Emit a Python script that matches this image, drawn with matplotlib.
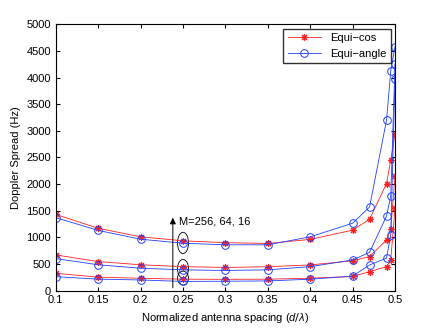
import matplotlib.pyplot as plt
from matplotlib.patches import Ellipse

plt.rcParams['font.family'] = ['Liberation Sans', 'DejaVu Sans']
plt.rcParams['mathtext.fontset'] = 'custom'
plt.rcParams['mathtext.it'] = 'Liberation Sans:italic'

# Normalized antenna spacing
spacing = [0.1, 0.15, 0.2, 0.25, 0.3, 0.35, 0.4, 0.45, 0.47, 0.49, 0.495, 0.5]

# Doppler spread (Hz), one curve per array size
cos_16 = [1430, 1170, 1010, 935, 900, 885, 962, 1135, 1340, 2010, 2450, 2940]
angle_16 = [1370, 1130, 965, 890, 860, 860, 1010, 1265, 1570, 3200, 4130, 4580]
cos_64 = [670, 545, 485, 450, 435, 448, 482, 560, 640, 950, 1150, 2160]
angle_64 = [600, 485, 420, 390, 378, 390, 450, 575, 720, 1400, 1780, 4260]
cos_256 = [325, 252, 232, 214, 212, 214, 233, 265, 355, 450, 580, 1550]
angle_256 = [262, 215, 200, 172, 176, 182, 214, 272, 482, 610, 1050, 3980]

xticks = [0.1, 0.15, 0.2, 0.25, 0.3, 0.35, 0.4, 0.45, 0.5]
xticklabels = ['0.1', '0.15', '0.2', '0.25', '0.3', '0.35', '0.4', '0.45', '0.5']
yticks = list(range(0, 5001, 500))

fig = plt.figure(figsize=(4.36, 3.28), dpi=100)
ax = fig.add_axes([0.128, 0.114, 0.778, 0.812])

star = (8, 2, 0)  # matlab-like asterisk
cos_style = dict(color='#ff2020', marker=star, markersize=5, linewidth=0.6, mew=0.8)
ang_style = dict(color='#2040ff', marker='o', mfc='none', markersize=5.5, linewidth=0.6, mew=0.7)

ax.plot(spacing, cos_16, label='Equi\u2212cos', **cos_style)
ax.plot(spacing, angle_16, label='Equi\u2212angle', **ang_style)
ax.plot(spacing, cos_64, **cos_style)
ax.plot(spacing, angle_64, **ang_style)
ax.plot(spacing, cos_256, **cos_style)
ax.plot(spacing, angle_256, **ang_style)

# ellipses around the pairs at 0.25
ax.add_patch(Ellipse((0.25, 895), 0.013, 400, fill=False, lw=0.6, ec='k'))
ax.add_patch(Ellipse((0.25, 410), 0.013, 350, fill=False, lw=0.6, ec='k'))
ax.add_patch(Ellipse((0.25, 235), 0.013, 260, fill=False, lw=0.6, ec='k'))

ax.annotate('', xy=(0.238, 1420), xytext=(0.238, 0),
            arrowprops=dict(arrowstyle='-|>', color='k', lw=0.7, mutation_scale=9))
ax.text(0.2455, 1300, 'M=256, 64, 16', fontsize=8, va='center')

ax.set_xlim(0.1, 0.5)
ax.set_ylim(0, 5000)
ax.set_xticks(xticks)
ax.set_xticklabels(xticklabels)
ax.set_yticks(yticks)
ax.tick_params(direction='in', top=True, right=True, labelsize=8, length=3)
ax.set_xlabel('Normalized antenna spacing ($d/\\lambda$)', fontsize=8)
ax.set_ylabel('Doppler Spread (Hz)', fontsize=8)
ax.legend(loc='upper right', fontsize=8, fancybox=False, edgecolor='k',
          borderaxespad=0.4, handlelength=3)

fig.savefig('out.png', dpi=100)
